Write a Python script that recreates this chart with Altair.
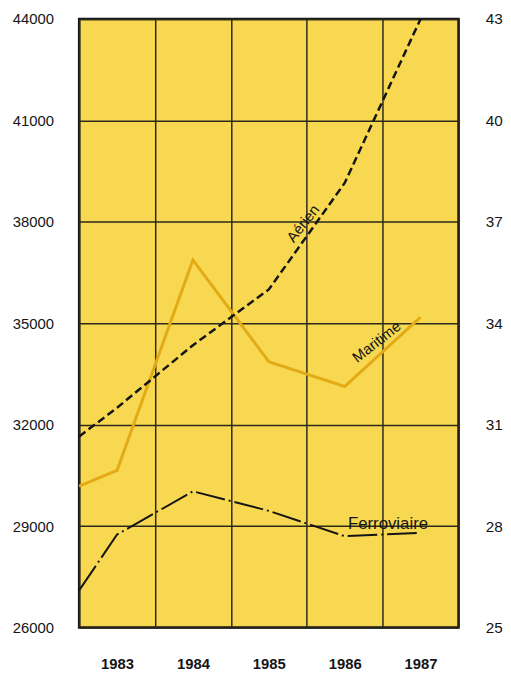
import altair as alt
import pandas as pd

# ---- data ----
years = [1982.5, 1983, 1984, 1985, 1986, 1987]
series_names = ["Maritime", "Aérien", "Ferroviaire"]
aerien = [31650, 32500, 34350, 36000, 39150, 44000]
maritime = [30180, 30650, 36870, 33860, 33130, 35180]
ferroviaire = [27100, 28750, 30030, 29450, 28700, 28800]

year_labels = [1983, 1984, 1985, 1986, 1987]
grid_years = [1982.5, 1983.5, 1984.5, 1985.5, 1986.5, 1987.5]
left_ticks = [26000, 29000, 32000, 35000, 38000, 41000, 44000]
right_ticks = [25, 28, 31, 34, 37, 40, 43]

label_text = ["Aérien", "Maritime", "Ferroviaire"]
label_x = [1985.45, 1986.42, 1986.57]
label_y = [37950, 34450, 29070]
label_angle = [308, 322, 0]
label_size = [15, 15, 17]

# ---- tables ----
rows = []
for name, vals in zip(series_names, [maritime, aerien, ferroviaire]):
    for yr, v in zip(years, vals):
        rows.append({"year": yr, "value": v, "series": name})
df = pd.DataFrame(rows)

lab_df = pd.DataFrame({"text": label_text, "x": label_x, "y": label_y,
                       "angle": label_angle, "size": label_size})
right_df = pd.DataFrame({"r": right_ticks, "x": [1982.5] * len(right_ticks)})

FONT = "Liberation Sans"
INK = "#151515"
GRID = "#2b2a1c"

xscale = alt.Scale(domain=[1982.5, 1987.5], nice=False, zero=False)
yscale = alt.Scale(domain=[26000, 44000], nice=False, zero=False)
rscale = alt.Scale(domain=[25, 43], nice=False, zero=False)

lines = alt.Chart(df).mark_line(strokeJoin="miter").encode(
    x=alt.X("year:Q", scale=xscale,
            axis=alt.Axis(values=year_labels, format="d", grid=False, ticks=False,
                          domain=False, labelPadding=29, labelFontSize=15,
                          labelFontWeight="bold", title=None)),
    y=alt.Y("value:Q", scale=yscale,
            axis=alt.Axis(values=left_ticks, format="d", grid=True, gridColor=GRID,
                          gridWidth=1.5, gridOpacity=1, ticks=False, domain=False,
                          labelPadding=26, labelFontSize=15, title=None)),
    color=alt.Color("series:N", legend=None,
                    scale=alt.Scale(domain=series_names, range=["#e2ab16", INK, INK])),
    strokeDash=alt.StrokeDash("series:N", legend=None,
                              scale=alt.Scale(domain=series_names,
                                              range=[[1, 0], [8, 4], [30, 4, 2, 4]])),
    strokeWidth=alt.StrokeWidth("series:N", legend=None,
                                scale=alt.Scale(domain=series_names, range=[3, 2, 2])),
    order=alt.Order("year:Q"),
)

labels = alt.Chart(lab_df).mark_text(font=FONT, color=INK, align="center",
                                     baseline="middle").encode(
    x=alt.X("x:Q", scale=xscale, axis=None),
    y=alt.Y("y:Q", scale=yscale, axis=None),
    text="text:N",
    angle=alt.Angle("angle:Q", scale=None),
    size=alt.Size("size:Q", scale=None, legend=None),
)

right = alt.Chart(right_df).mark_point(opacity=0).encode(
    x=alt.X("x:Q", scale=xscale,
            axis=alt.Axis(orient="top", values=grid_years, grid=True, gridColor=GRID,
                          gridWidth=1.5, gridOpacity=1, labels=False, ticks=False,
                          domain=False, title=None)),
    y=alt.Y("r:Q", scale=rscale,
            axis=alt.Axis(orient="right", values=right_ticks, format="d", grid=False,
                          ticks=False, domain=False, labelPadding=27,
                          labelFontSize=15.5, title=None)),
)

chart = alt.layer(right, lines, labels).resolve_scale(
    y="independent"
).resolve_axis(
    x="independent", y="independent"
).properties(
    width=384, height=616, padding={"left": 4, "top": 0, "right": 0, "bottom": 0},
    background="white"
).configure_view(
    fill="#f8d850", stroke=INK, strokeWidth=2.5
).configure_axis(
    labelFont=FONT, labelColor=INK
)

chart.save("out.html", embed_options={"renderer": "svg", "actions": False})
